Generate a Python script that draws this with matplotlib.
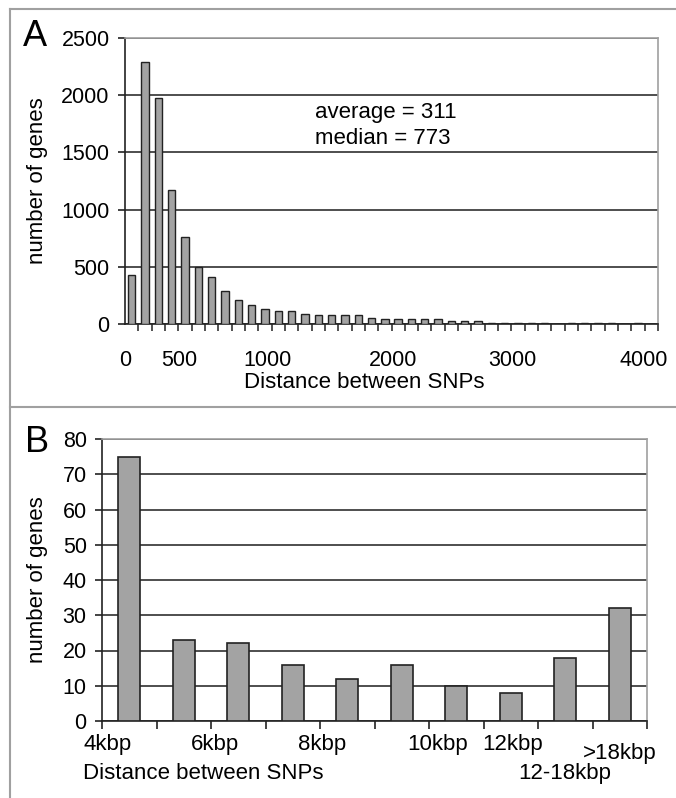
import numpy as np
import matplotlib
matplotlib.use('Agg')
import matplotlib.pyplot as plt
from matplotlib.lines import Line2D
from matplotlib.transforms import blended_transform_factory

plt.rcParams['font.family'] = ['Liberation Sans', 'DejaVu Sans']

# panel A: histogram of SNP distances, 100 bp bins from 0 to 4000
bin_width = 100
counts_a = [430, 2290, 1975, 1175, 760, 495, 410, 290, 210, 165,
            135, 115, 115, 90, 75, 75, 75, 75, 50, 40,
            40, 40, 40, 40, 30, 30, 30, 8, 8, 8,
            8, 8, 0, 8, 8, 8, 8, 0, 8, 0]
xlabels_a = ['0', '500', '1000', '2000', '3000', '4000']
xlabel_pos_a = [0, 410, 1070, 2010, 2910, 3890]
yticks_a = [0, 500, 1000, 1500, 2000, 2500]
stats_text = ['average = 311', 'median = 773']

# panel B: long distances
categories_b = ['4-5kbp', '5-6kbp', '6-7kbp', '7-8kbp', '8-9kbp',
                '9-10kbp', '10-11kbp', '11-12kbp', '12-18kbp', '>18kbp']
counts_b = [75, 23, 22, 16, 12, 16, 10, 8, 18, 32]
xlabels_b = ['4kbp', '6kbp', '8kbp', '10kbp', '12kbp', '>18kbp', '12-18kbp']
xlabel_pos_b = [-0.39, 1.57, 3.54, 5.65, 7.04, 9.0, 8.0]
xlabel_row_b = [0, 0, 0, 0, 0, 1, 2]
yticks_b = list(range(0, 90, 10))

bar_color = '#a3a3a3'
edge_color = '#222222'
grid_color = '#404040'
frame_color = '#a0a0a0'
fs_tick = 15.5
fs = 16

fig = plt.figure(figsize=(6.76, 7.98), dpi=100)

def style_axes(ax):
    ax.set_axisbelow(True)
    ax.yaxis.grid(True, color=grid_color, linewidth=1.3)
    for s in ['top', 'right']:
        ax.spines[s].set_color(frame_color)
        ax.spines[s].set_linewidth(1.2)
    for s in ['left', 'bottom']:
        ax.spines[s].set_color('#222222')
        ax.spines[s].set_linewidth(1.2)
    ax.tick_params(axis='y', which='major', length=5, width=1.2,
                   color='#222222', labelsize=fs_tick, pad=6)

# ---- panel A
ax1 = fig.add_axes([125/676, 1 - 324/798, 533/676, 286/798])
centers = np.arange(len(counts_a)) * bin_width + bin_width / 2
ax1.bar(centers, counts_a, width=55, color=bar_color, edgecolor=edge_color,
        linewidth=1.0, zorder=3)
ax1.set_xlim(0, len(counts_a) * bin_width)
ax1.set_ylim(0, 2500)
ax1.set_yticks(yticks_a)
style_axes(ax1)
ax1.set_xticks(np.arange(len(counts_a) + 1) * bin_width, minor=True)
ax1.set_xticks(xlabel_pos_a)
ax1.set_xticklabels(xlabels_a)
ax1.tick_params(axis='x', which='major', length=0, labelsize=fs_tick, pad=19)
ax1.tick_params(axis='x', which='minor', length=5, width=1.1, color='#222222')
ax1.set_ylabel('number of genes', fontsize=fs)
ax1.yaxis.set_label_coords(-0.144, 0.5)
ax1.text(0.448, -0.206, 'Distance between SNPs', transform=ax1.transAxes,
         ha='center', va='center', fontsize=fs)
ax1.text(1425, 1847, stats_text[0], ha='left', va='center', fontsize=fs)
ax1.text(1425, 1620, stats_text[1], ha='left', va='center', fontsize=fs)
fig.text(23/676, 1 - 36/798, 'A', ha='left', va='center', fontsize=26)

# ---- panel B
ax2 = fig.add_axes([102/676, 1 - 721/798, 545/676, 282/798])
xb = np.arange(len(counts_b))
ax2.bar(xb, counts_b, width=0.4, color=bar_color, edgecolor=edge_color,
        linewidth=1.2, zorder=3)
ax2.set_xlim(-0.5, len(counts_b) - 0.5)
ax2.set_ylim(0, 80)
ax2.set_yticks(yticks_b)
style_axes(ax2)
ax2.set_xticks(np.arange(len(counts_b) + 1) - 0.5)
ax2.set_xticklabels([])
ax2.tick_params(axis='x', which='major', length=6, width=1.2, color='#222222')
ax2.set_ylabel('number of genes', fontsize=fs)
ax2.yaxis.set_label_coords(-0.099, 0.5)
trans = blended_transform_factory(ax2.transData, ax2.transAxes)
row_y = [-0.085, -0.117, -0.186]
for lab, pos, row in zip(xlabels_b, xlabel_pos_b, xlabel_row_b):
    ax2.text(pos, row_y[row], lab, transform=trans, ha='center', va='center',
             fontsize=fs)
ax2.text(-0.035, -0.186, 'Distance between SNPs', transform=ax2.transAxes,
         ha='left', va='center', fontsize=fs)
fig.text(25/676, 1 - 443/798, 'B', ha='left', va='center', fontsize=26)

# outer frame around the two panels
fig.add_artist(Line2D([10/676, 10/676], [0, 1 - 9/798], color=frame_color, lw=1.5))
fig.add_artist(Line2D([10/676, 1], [1 - 9/798, 1 - 9/798], color=frame_color, lw=1.5))
fig.add_artist(Line2D([10/676, 1], [1 - 407/798, 1 - 407/798], color=frame_color, lw=1.5))

fig.savefig('out.png', dpi=100)
